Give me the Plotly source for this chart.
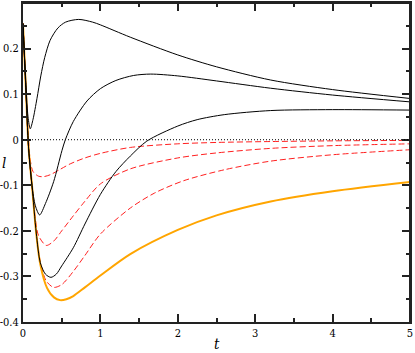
import plotly.graph_objects as go

# ---- data ----
t_b1 = [0, 0.03, 0.065, 0.094, 0.13, 0.18, 0.23, 0.28, 0.35, 0.45, 0.55, 0.72, 0.9, 1.0, 1.386, 2.0, 2.5, 3.2, 4.0, 5.0]
l_b1 = [0.255, 0.15, 0.05, 0.024, 0.045, 0.09, 0.14, 0.18, 0.218, 0.245, 0.258, 0.264, 0.258, 0.252, 0.225, 0.186, 0.160, 0.131, 0.110, 0.0905]

t_b2 = [0, 0.036, 0.073, 0.116, 0.16, 0.215, 0.29, 0.396, 0.503, 0.547, 0.65, 0.827, 1.0, 1.2, 1.43, 1.65, 2.0, 2.5, 3.2, 4.0, 5.0]
l_b2 = [0.255, 0.115, -0.02, -0.10, -0.145, -0.165, -0.14, -0.092, -0.024, 0.0, 0.04, 0.085, 0.112, 0.13, 0.141, 0.144, 0.14, 0.129, 0.113, 0.098, 0.083]

t_b3 = [0, 0.036, 0.073, 0.116, 0.172, 0.224, 0.29, 0.361, 0.43, 0.5, 0.65, 0.8, 1.0, 1.2, 1.386, 1.6, 2.0, 2.25, 2.6, 3.2, 4.0, 5.0]
l_b3 = [0.255, 0.115, -0.02, -0.10, -0.205, -0.27, -0.295, -0.302, -0.295, -0.277, -0.237, -0.185, -0.12, -0.07, -0.036, -0.003, 0.03, 0.044, 0.055, 0.064, 0.066, 0.065]

t_r1 = [0, 0.036, 0.065, 0.09, 0.13, 0.2, 0.267, 0.35, 0.48, 0.61, 0.8, 1.0, 1.386, 2.0, 2.5, 3.2, 4.0, 5.0]
l_r1 = [0.255, 0.12, 0.02, -0.04, -0.07, -0.08, -0.081, -0.077, -0.065, -0.053, -0.04, -0.03, -0.017, -0.009, -0.006, -0.004, -0.0025, -0.0015]

t_r2 = [0, 0.036, 0.073, 0.116, 0.15, 0.2, 0.3, 0.4, 0.5, 0.65, 0.8, 1.0, 1.386, 2.0, 2.5, 3.2, 4.0, 5.0]
l_r2 = [0.255, 0.115, -0.02, -0.10, -0.16, -0.21, -0.232, -0.222, -0.200, -0.167, -0.135, -0.097, -0.064, -0.040, -0.029, -0.019, -0.013, -0.009]

t_r3 = [0, 0.036, 0.073, 0.116, 0.172, 0.224, 0.30, 0.396, 0.5, 0.65, 0.8, 1.0, 1.386, 1.7, 2.075, 2.6, 3.2, 4.0, 5.0]
l_r3 = [0.255, 0.115, -0.02, -0.10, -0.205, -0.268, -0.31, -0.324, -0.318, -0.289, -0.254, -0.207, -0.150, -0.117, -0.09, -0.066, -0.047, -0.033, -0.022]

t_or = [0, 0.036, 0.073, 0.116, 0.172, 0.224, 0.31, 0.40, 0.48, 0.56, 0.65, 0.8, 1.0, 1.386, 2.0, 2.5, 3.2, 4.0, 5.0]
l_or = [0.255, 0.115, -0.02, -0.10, -0.207, -0.274, -0.325, -0.346, -0.352, -0.350, -0.343, -0.324, -0.298, -0.251, -0.198, -0.166, -0.1355, -0.113, -0.0927]

x_ticks = [0, 1, 2, 3, 4, 5]
y_ticks = [-0.4, -0.3, -0.2, -0.1, 0, 0.1, 0.2]
y_tick_text = ["-0.4", "-0.3", "-0.2", "-0.1", "0", "0.1", "0.2"]

series = [
    (t_r1, l_r1, "#ff2020", 1, "6px,3px"),
    (t_r2, l_r2, "#ff2020", 1, "6px,3px"),
    (t_r3, l_r3, "#ff2020", 1, "6px,3px"),
    (t_or, l_or, "#ffa500", 2, "solid"),
    (t_b1, l_b1, "#000000", 1, "solid"),
    (t_b2, l_b2, "#000000", 1, "solid"),
    (t_b3, l_b3, "#000000", 1, "solid"),
]

fig = go.Figure()
fig.add_hline(y=0, line=dict(color="black", width=1, dash="1px,2px"))
for tx, ly, col, w, d in series:
    fig.add_trace(go.Scatter(x=tx, y=ly, mode="lines",
                             line=dict(color=col, width=w, dash=d, shape="spline", smoothing=0.8),
                             showlegend=False, hoverinfo="skip"))

serif = "DejaVu Serif Condensed, DejaVu Serif, serif"
tick_common = dict(showline=True, linecolor="#222222", linewidth=2,
                   ticks="inside", ticklen=8, tickcolor="#222222", tickwidth=1.5,
                   showgrid=False, zeroline=False, automargin=False,
                   tickfont=dict(family=serif, size=11, color="black"))
x_minor = dict(ticks="inside", ticklen=4, dtick=0.5, tick0=0, tickcolor="#222222", tickwidth=1.5, showgrid=False)
y_minor = dict(ticks="inside", ticklen=4, dtick=0.05, tick0=0, tickcolor="#222222", tickwidth=1.5, showgrid=False)

fig.update_layout(
    xaxis=dict(range=[0, 5], tickvals=x_ticks, minor=x_minor, mirror="allticks", **tick_common),
    yaxis=dict(range=[-0.4, 0.3], tickvals=y_ticks, ticktext=y_tick_text, minor=y_minor, mirror="allticks", **tick_common),
)

# frame lines along the plot-area edges
for x0, y0, x1, y1 in [(0, 1, 1, 1), (1, 0, 1, 1)]:
    fig.add_shape(type="line", xref="paper", yref="paper", x0=x0, y0=y0, x1=x1, y1=y1,
                  line=dict(color="#222222", width=2), layer="above")

fig.add_annotation(text="<i>t</i>", xref="paper", yref="paper", x=0.5, y=0, yshift=-22,
                   showarrow=False, font=dict(family=serif, size=15, color="black"), yanchor="middle")
fig.add_annotation(text="<i>l</i>", xref="paper", yref="paper", x=0, y=0.5, xshift=-19,
                   showarrow=False, font=dict(family=serif, size=15, color="black"), xanchor="center")

fig.update_layout(width=415, height=353, margin=dict(l=23, r=5, t=3, b=31),
                  plot_bgcolor="white", paper_bgcolor="white",
                  font=dict(family=serif, color="black"))
fig.write_html("out.html", config={"displayModeBar": False},
               post_script="document.body.style.margin='0';document.body.style.overflow='hidden';")
